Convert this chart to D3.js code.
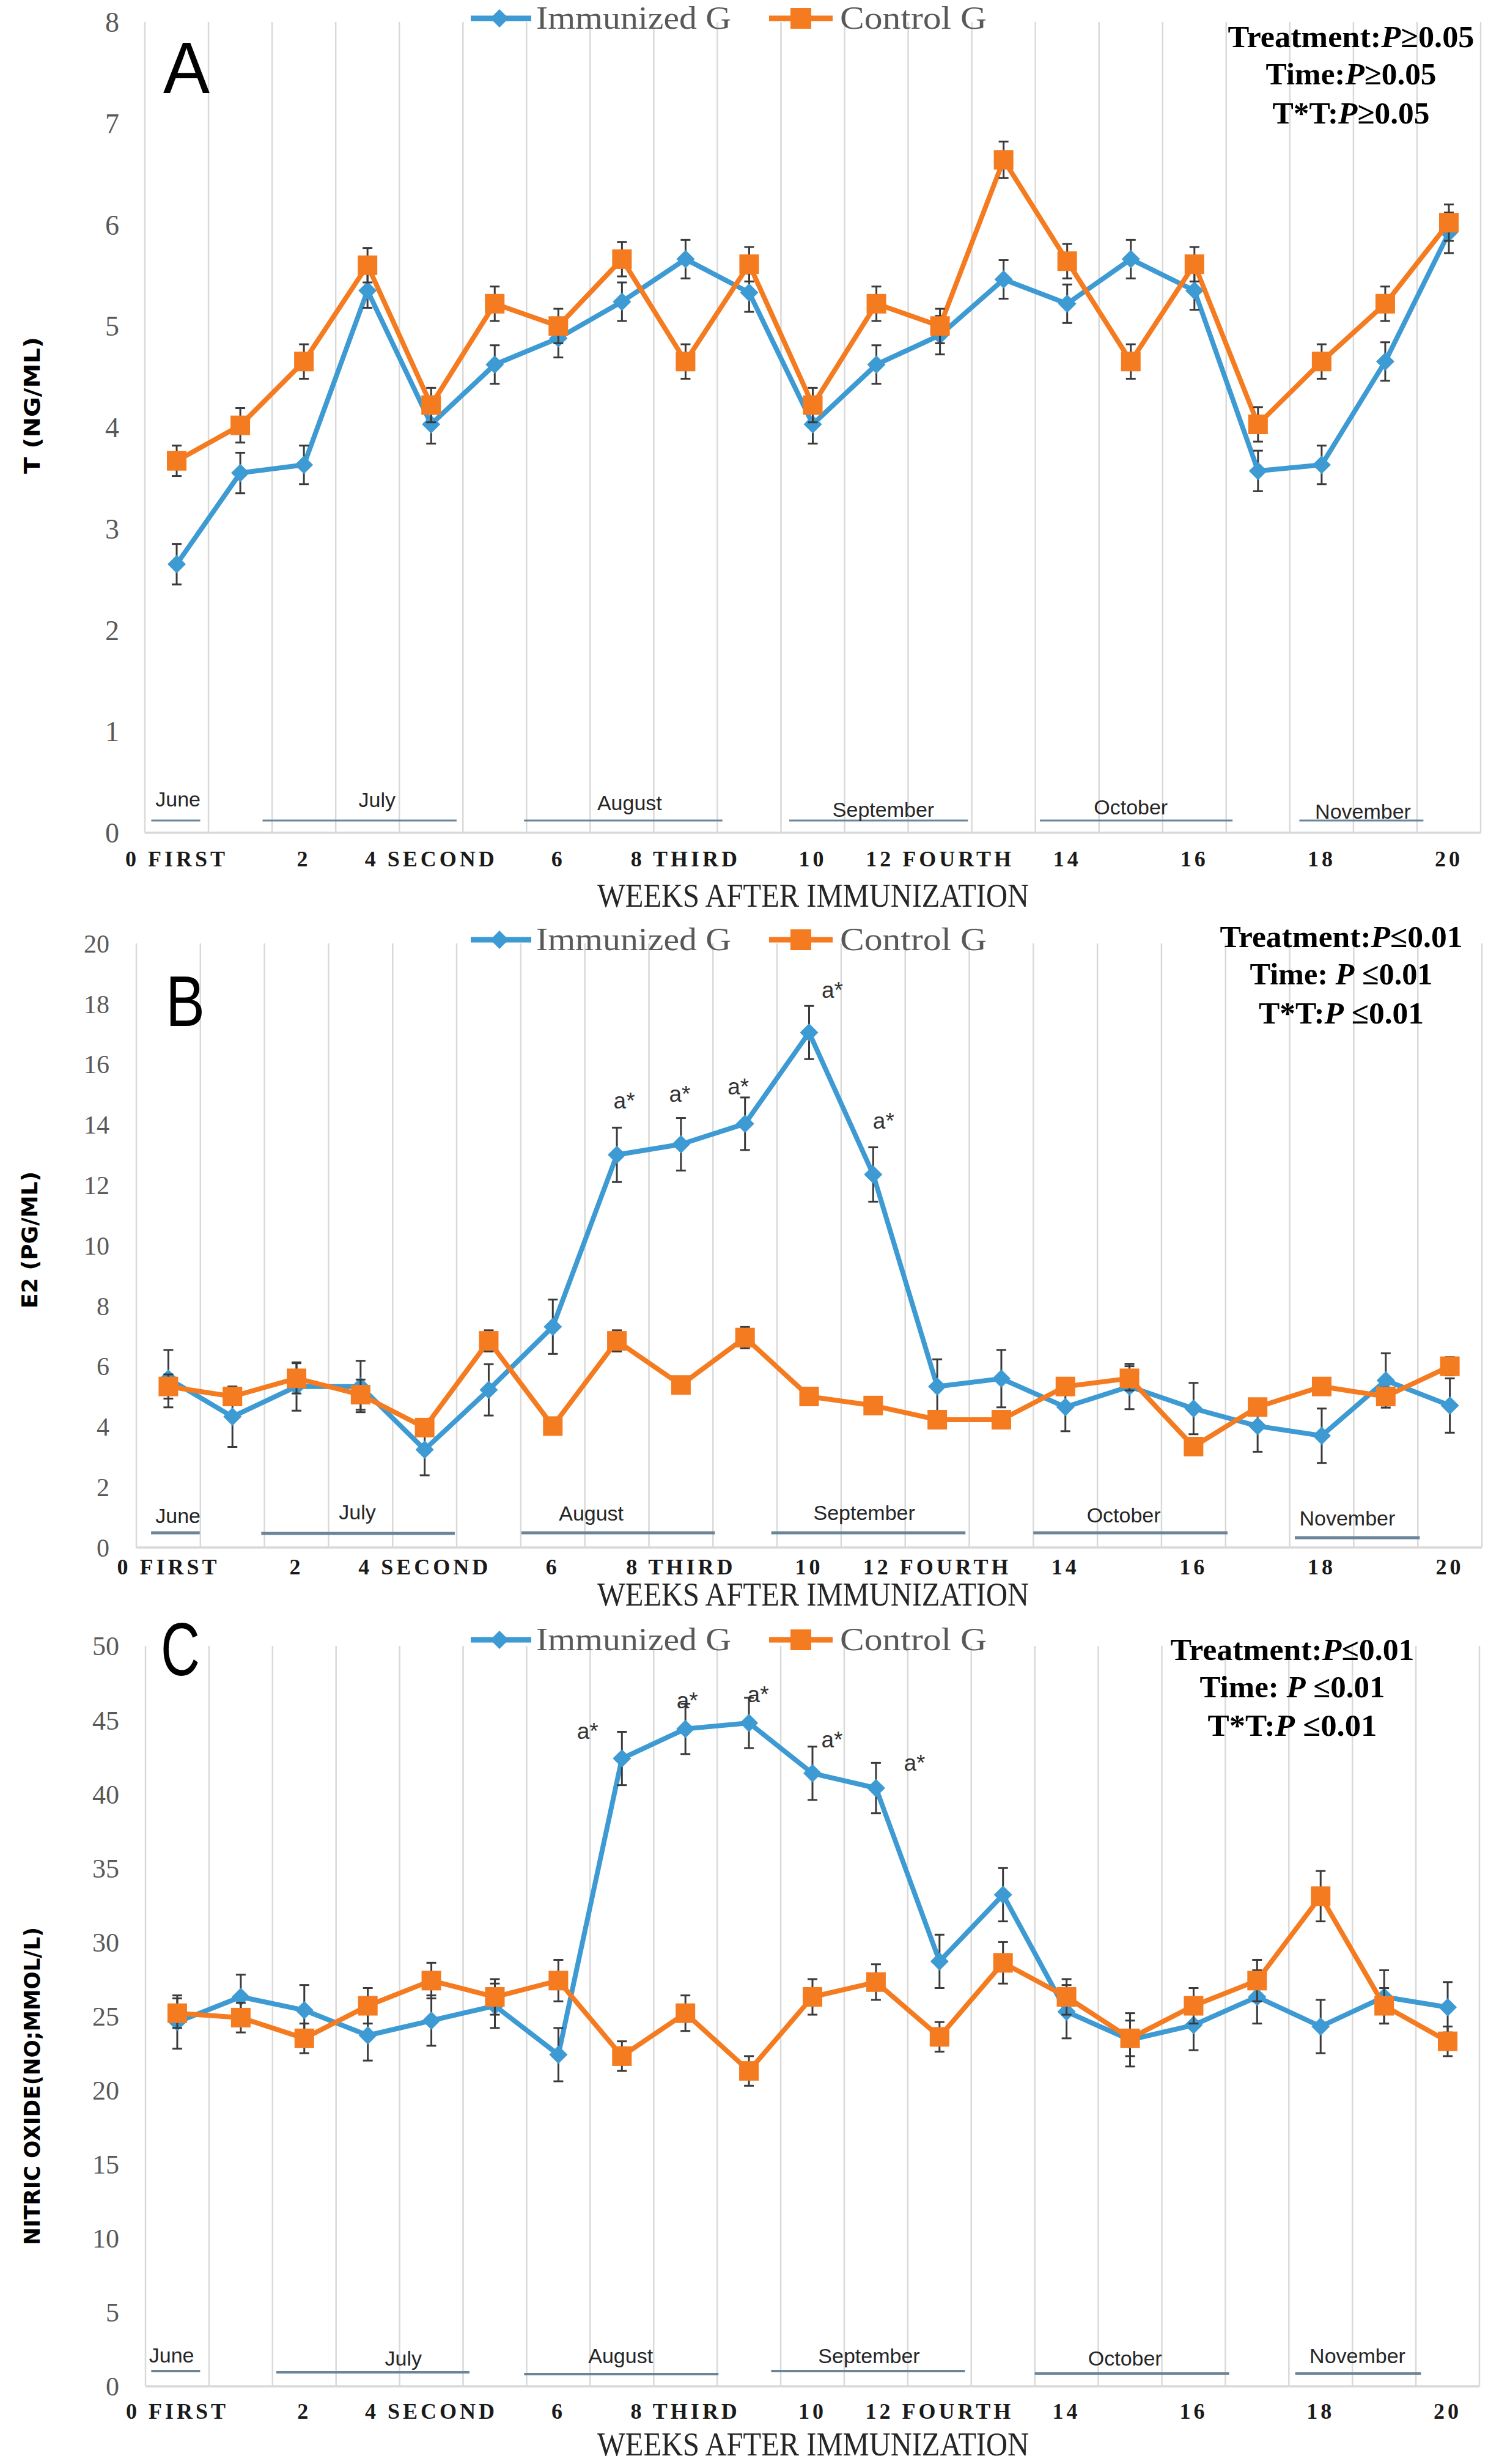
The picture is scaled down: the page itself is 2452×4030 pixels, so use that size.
<!DOCTYPE html>
<html><head><meta charset="utf-8">
<script src="https://cdn.jsdelivr.net/npm/d3@7"></script>
<style>body{margin:0;background:#fff}svg{display:block}</style>
</head><body>
<svg id="chart" width="2452" height="4030"></svg>
<script>
// ---------------- DATA ----------------
const weeks = [0,1,2,3,4,5,6,7,8,9,10,11,12,13,14,15,16,17,18,19,20];
const weekLabels = ["0 FIRST","","2","","4 SECOND","","6","","8 THIRD","","10","","12 FOURTH","","14","","16","","18","","20"];
const months = ["June","July","August","September","October","November"];
const seriesNames = ["Immunized G","Control G"];

const yTicksT  = [0,1,2,3,4,5,6,7,8];
const yTicksE2 = [0,2,4,6,8,10,12,14,16,18,20];
const yTicksNO = [0,5,10,15,20,25,30,35,40,45,50];

const tImmunized     = [2.65,3.55,3.63,5.35,4.03,4.62,4.88,5.24,5.66,5.33,4.03,4.62,4.91,5.46,5.22,5.66,5.35,3.57,3.63,4.65,5.92];
const tImmunizedErr  = [0.20,0.20,0.19,0.17,0.19,0.19,0.19,0.19,0.19,0.19,0.19,0.19,0.19,0.19,0.19,0.19,0.19,0.20,0.19,0.19,0.20];
const tControl       = [3.67,4.02,4.65,5.60,4.22,5.22,5.00,5.66,4.65,5.61,4.22,5.22,5.00,6.64,5.64,4.65,5.61,4.03,4.65,5.22,6.02];
const tControlErr    = [0.15,0.17,0.17,0.17,0.17,0.17,0.17,0.17,0.17,0.17,0.17,0.17,0.17,0.18,0.17,0.17,0.17,0.17,0.17,0.17,0.18];

const e2Immunized    = [5.59,4.33,5.33,5.33,3.24,5.22,7.31,13.0,13.35,14.03,17.05,12.35,5.33,5.59,4.65,5.33,4.60,4.02,3.70,5.53,4.70];
const e2ImmunizedErr = [0.95,1.0,0.8,0.85,0.85,0.85,0.9,0.9,0.87,0.87,0.88,0.9,0.9,0.95,0.8,0.75,0.85,0.85,0.9,0.9,0.9];
const e2Control      = [5.33,5.00,5.60,5.06,3.97,6.84,4.02,6.84,5.38,6.95,5.00,4.70,4.23,4.23,5.33,5.60,3.34,4.65,5.33,5.00,6.00];
const e2ControlErr   = [0.4,0.2,0.5,0.5,0.15,0.35,0.1,0.35,0.2,0.35,0.15,0.15,0.15,0.15,0.25,0.4,0.15,0.25,0.2,0.3,0.3];

const noImmunized    = [24.6,26.3,25.4,23.7,24.7,25.7,22.4,42.4,44.4,44.8,41.4,40.4,28.7,33.2,25.3,23.4,24.4,26.3,24.3,26.3,25.6];
const noImmunizedErr = [1.8,1.5,1.7,1.7,1.7,1.5,1.8,1.8,1.7,1.7,1.8,1.7,1.8,1.8,1.8,1.8,1.7,1.8,1.8,1.8,1.7];
const noControl      = [25.2,24.9,23.5,25.7,27.4,26.3,27.4,22.3,25.2,21.3,26.3,27.3,23.6,28.6,26.3,23.5,25.7,27.4,33.1,25.7,23.3];
const noControlErr   = [1.0,1.0,1.0,1.2,1.2,1.2,1.4,1.0,1.2,1.0,1.2,1.2,1.0,1.4,1.2,1.2,1.2,1.4,1.7,1.2,1.0];

const e2Significant = [7,8,9,10,11];
const noSignificant = [7,8,9,10,11];
const sigLabel = "a*";

const statsA = [["Treatment:","P","≥0.05"],["Time:","P","≥0.05"],["T*T:","P","≥0.05"]];
const statsB = [["Treatment:","P","≤0.01"],["Time: ","P"," ≤0.01"],["T*T:","P"," ≤0.01"]];
const statsC = [["Treatment:","P","≤0.01"],["Time: ","P"," ≤0.01"],["T*T:","P"," ≤0.01"]];

// ---------------- STYLE / LAYOUT ----------------
const BLUE = "#3d9ad3", ORANGE = "#f47b20", GRID = "#d9d9d9", MONTHLINE = "#6a8599";
const SERIF = "'Liberation Serif','Times New Roman',serif";
const SANS = "'Liberation Sans',Arial,sans-serif";
const NARROW = "'Liberation Sans Narrow','DejaVu Sans Condensed','Liberation Sans',sans-serif";

const panels = [
  { letter:"A", letterX:267, letterBase:152, letterLen:76, letterSize:118,
    left:237, right:2422, y0:1362, yTop:36, yMax:8, yTicks:yTicksT, yLabelX:195, yLabelSize:46,
    yTitle:"T (NG/ML)", yTitleX:52, yTitleY:663, yTitleLen:224,
    imm:tImmunized, immErr:tImmunizedErr, con:tControl, conErr:tControlErr,
    legendY:30, tickBase:1417, titleY:1465,
    stats:statsA, statsX:2210, statsY:[60,121,185], statsLen:[403,279,257],
    monthLineY:[1342,1342,1342,1342,1342,1342], monthLineW:3,
    monthSpan:[[0.1,0.87],[1.85,4.9],[5.96,9.08],[10.13,12.94],[14.07,17.1],[18.15,20.1]],
    monthLabelU:[0.52,3.65,7.62,11.61,15.5,19.15], monthLabelBase:[1319,1320,1325,1336,1332,1339],
    sig:[], sigDx:[], sigDy:[] },
  { letter:"B", letterX:271, letterBase:1678, letterLen:64, letterSize:116,
    left:223, right:2424, y0:2531, yTop:1543, yMax:20, yTicks:yTicksE2, yLabelX:179, yLabelSize:42,
    yTitle:"E2 (PG/ML)", yTitleX:48, yTitleY:2028, yTitleLen:224,
    imm:e2Immunized, immErr:e2ImmunizedErr, con:e2Control, conErr:e2ControlErr,
    legendY:1537, tickBase:2575, titleY:2608,
    stats:statsB, statsX:2194, statsY:[1532,1593,1657], statsLen:[397,299,270],
    monthLineY:[2507,2508,2507,2507,2507,2515], monthLineW:5,
    monthSpan:[[0.23,0.99],[1.95,4.97],[6.01,9.03],[9.91,12.94],[14.0,17.03],[18.08,20.03]],
    monthLabelU:[0.65,3.45,7.1,11.36,15.41,18.9], monthLabelBase:[2491,2485,2487,2486,2490,2495],
    sig:e2Significant, sigDx:[12,-2,-11,38,17], sigDy:[-44,-40,-18,-26,-43] },
  { letter:"C", letterX:263, letterBase:2740, letterLen:64, letterSize:122,
    left:238, right:2420, y0:3903, yTop:2692, yMax:50, yTicks:yTicksNO, yLabelX:195, yLabelSize:44,
    yTitle:"NITRIC OXIDE(NO;MMOL/L)", yTitleX:52, yTitleY:3412, yTitleLen:520,
    imm:noImmunized, immErr:noImmunizedErr, con:noControl, conErr:noControlErr,
    legendY:2682, tickBase:3956, titleY:3998,
    stats:statsC, statsX:2114, statsY:[2698,2759,2822], statsLen:[399,303,277],
    monthLineY:[3878,3880,3883,3878,3882,3882], monthLineW:4,
    monthSpan:[[0.09,0.86],[2.06,5.1],[5.96,9.02],[9.85,12.9],[14.0,17.06],[18.1,20.08]],
    monthLabelU:[0.41,4.06,7.48,11.39,15.42,19.08], monthLabelBase:[3864,3869,3865,3865,3869,3865],
    sig:noSignificant, sigDx:[-56,3,15,32,63], sigDy:[-1,-5,-6,-12,0] }
];

const svg = d3.select("#chart");
svg.append("rect").attr("width",2452).attr("height",4030).attr("fill","#fff");

const diamond = r => `M0,${-r}L${r},0L0,${r}L${-r},0Z`;

panels.forEach(cfg => {
  const g = svg.append("g");
  const x = d3.scaleBand().domain(weeks).range([cfg.left, cfg.right]).padding(0);
  const bw = x.bandwidth();
  const ux = u => cfg.left + u * bw;
  const cx = d => x(d) + bw / 2;
  const y = d3.scaleLinear().domain([0, cfg.yMax]).range([cfg.y0, cfg.yTop]);

  // vertical gridlines
  g.append("g").selectAll("line").data(d3.range(weeks.length + 1)).join("line")
    .attr("x1", i => ux(i)).attr("x2", i => ux(i))
    .attr("y1", cfg.yTop).attr("y2", cfg.y0)
    .attr("stroke", GRID).attr("stroke-width", 2.5);
  g.append("line").attr("x1", cfg.left).attr("x2", cfg.right)
    .attr("y1", cfg.y0).attr("y2", cfg.y0).attr("stroke", GRID).attr("stroke-width", 3.5);

  // month markers
  months.forEach((m, i) => {
    g.append("line").attr("x1", ux(cfg.monthSpan[i][0])).attr("x2", ux(cfg.monthSpan[i][1]))
      .attr("y1", cfg.monthLineY[i]).attr("y2", cfg.monthLineY[i])
      .attr("stroke", MONTHLINE).attr("stroke-width", cfg.monthLineW);
    g.append("text").attr("x", ux(cfg.monthLabelU[i])).attr("y", cfg.monthLabelBase[i])
      .attr("text-anchor", "middle").attr("font-family", SANS).attr("font-size", 34)
      .attr("fill", "#262626").text(m);
  });

  // y axis
  const ya = g.append("g").attr("transform", `translate(${cfg.yLabelX},0)`)
    .call(d3.axisLeft(y).tickValues(cfg.yTicks).tickSize(0).tickPadding(0).tickFormat(d3.format("d")));
  ya.select(".domain").remove();
  ya.selectAll("text").attr("font-family", SERIF).attr("font-size", cfg.yLabelSize)
    .attr("fill", "#595959").attr("dy", "0.34em");

  // x axis
  const xa = g.append("g").attr("transform", `translate(0,${cfg.y0})`)
    .call(d3.axisBottom(x).tickSize(0).tickFormat((d, i) => weekLabels[i]));
  xa.select(".domain").remove();
  xa.selectAll("text").attr("y", cfg.tickBase - cfg.y0).attr("dy", null)
    .attr("font-family", SERIF).attr("font-weight", "bold").attr("font-size", 36)
    .attr("letter-spacing", 5).attr("fill", "#1a1a1a");

  // axis titles
  g.append("text").attr("x", 1330)
    .attr("y", cfg.titleY + 18).attr("text-anchor", "middle")
    .attr("font-family", SERIF).attr("font-size", 54).attr("fill", "#262626")
    .attr("textLength", 706).attr("lengthAdjust", "spacingAndGlyphs")
    .text("WEEKS AFTER IMMUNIZATION");
  g.append("text").attr("transform", `translate(${cfg.yTitleX + 13},${cfg.yTitleY}) rotate(-90)`)
    .attr("text-anchor", "middle").attr("font-family", NARROW).attr("font-weight", "bold")
    .attr("font-size", 36).attr("fill", "#000")
    .attr("textLength", cfg.yTitleLen).attr("lengthAdjust", "spacingAndGlyphs")
    .text(cfg.yTitle);

  // series
  const series = [
    { vals: cfg.imm, err: cfg.immErr, color: BLUE, kind: "diamond" },
    { vals: cfg.con, err: cfg.conErr, color: ORANGE, kind: "square" }
  ];
  const lineGen = d3.line().x((v, i) => cx(weeks[i])).y(v => y(v));
  series.forEach(s => {
    const sg = g.append("g");
    sg.append("path").attr("d", lineGen(s.vals)).attr("fill", "none")
      .attr("stroke", s.color).attr("stroke-width", 8).attr("stroke-linejoin", "round");
    const eb = sg.append("g").attr("stroke", "#3a3a3a").attr("stroke-width", 3);
    s.vals.forEach((v, i) => {
      const xx = cx(weeks[i]);
      eb.append("line").attr("x1", xx).attr("x2", xx).attr("y1", y(v - s.err[i])).attr("y2", y(v + s.err[i]));
      [v - s.err[i], v + s.err[i]].forEach(e =>
        eb.append("line").attr("x1", xx - 8).attr("x2", xx + 8).attr("y1", y(e)).attr("y2", y(e)));
    });
    s.vals.forEach((v, i) => {
      const xx = cx(weeks[i]), yy = y(v);
      if (s.kind === "diamond") {
        sg.append("path").attr("d", diamond(15)).attr("transform", `translate(${xx},${yy})`).attr("fill", s.color);
      } else {
        sg.append("rect").attr("x", xx - 16).attr("y", yy - 16).attr("width", 32).attr("height", 32).attr("fill", s.color);
      }
    });
  });

  // significance labels
  cfg.sig.forEach((wk, k) => {
    const idx = weeks.indexOf(wk);
    const top = y(cfg.imm[idx] + cfg.immErr[idx]);
    g.append("text").attr("x", cx(wk) + cfg.sigDx[k]).attr("y", top + cfg.sigDy[k] + 13)
      .attr("text-anchor", "middle").attr("font-family", SANS).attr("font-size", 37)
      .attr("fill", "#333").text(sigLabel);
  });

  // legend
  const lg = g.append("g");
  lg.append("line").attr("x1", 770).attr("x2", 869).attr("y1", cfg.legendY).attr("y2", cfg.legendY)
    .attr("stroke", BLUE).attr("stroke-width", 9);
  lg.append("path").attr("d", diamond(15)).attr("transform", `translate(817,${cfg.legendY})`).attr("fill", BLUE);
  lg.append("text").attr("x", 877).attr("y", cfg.legendY + 17).attr("font-family", SERIF)
    .attr("font-size", 52).attr("fill", "#595959").attr("textLength", 319)
    .attr("lengthAdjust", "spacingAndGlyphs").text(seriesNames[0]);
  lg.append("line").attr("x1", 1258).attr("x2", 1362).attr("y1", cfg.legendY).attr("y2", cfg.legendY)
    .attr("stroke", ORANGE).attr("stroke-width", 9);
  lg.append("rect").attr("x", 1293).attr("y", cfg.legendY - 17).attr("width", 34).attr("height", 34).attr("fill", ORANGE);
  lg.append("text").attr("x", 1374).attr("y", cfg.legendY + 17).attr("font-family", SERIF)
    .attr("font-size", 52).attr("fill", "#595959").attr("textLength", 240)
    .attr("lengthAdjust", "spacingAndGlyphs").text(seriesNames[1]);

  // stats
  cfg.stats.forEach((parts, k) => {
    const t = g.append("text").attr("x", cfg.statsX).attr("y", cfg.statsY[k] + 17)
      .attr("text-anchor", "middle").attr("font-family", SERIF).attr("font-weight", "bold")
      .attr("font-size", 50).attr("fill", "#000")
      .attr("textLength", cfg.statsLen[k]).attr("lengthAdjust", "spacingAndGlyphs");
    t.append("tspan").text(parts[0]);
    t.append("tspan").attr("font-style", "italic").text(parts[1]);
    t.append("tspan").text(parts[2]);
  });

  // panel letter
  g.append("text").attr("x", cfg.letterX).attr("y", cfg.letterBase)
    .attr("font-family", SANS).attr("font-size", cfg.letterSize).attr("fill", "#000")
    .attr("textLength", cfg.letterLen).attr("lengthAdjust", "spacingAndGlyphs").text(cfg.letter);
});
</script>
</body></html>
